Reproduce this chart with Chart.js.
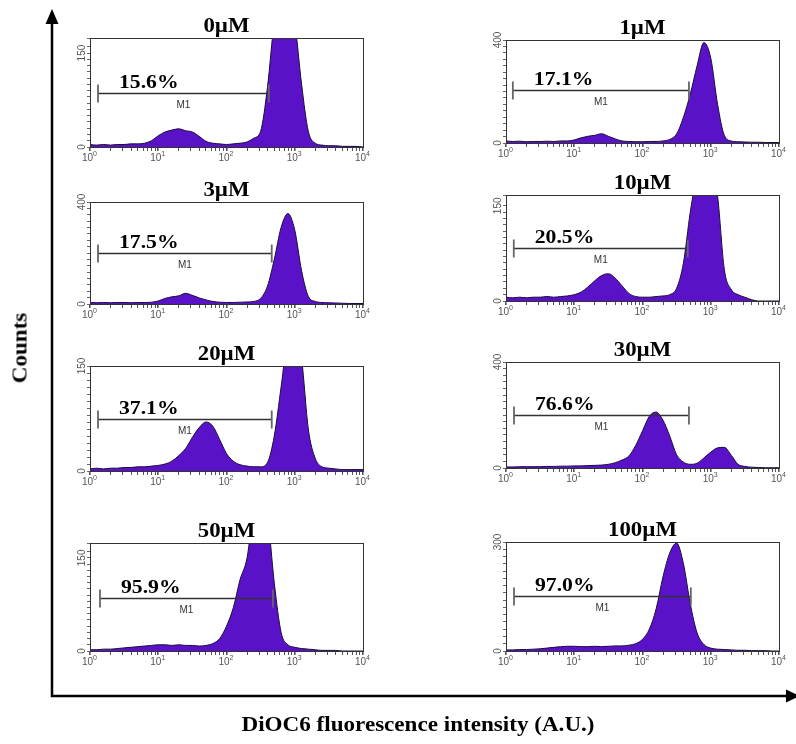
<!DOCTYPE html>
<html>
<head>
<meta charset="utf-8">
<title>DiOC6 histograms</title>
<script src="https://cdn.jsdelivr.net/npm/chart.js@4.4.1/dist/chart.umd.min.js"></script>
<style>
  html, body { margin: 0; padding: 0; background: #fff; }
  #page { position: relative; width: 796px; height: 744px; overflow: hidden; }
  #page canvas { position: absolute; }
  .axis-title {
    position: absolute;
    font-family: "Liberation Serif", "Times New Roman", serif;
    font-weight: bold;
    font-size: 21px;
    white-space: nowrap;
    color: #000;
  }
  #ylab { left: 20px; top: 348px; transform: translate(-50%, -50%) rotate(-90deg) scaleX(1.1); }
  #xlab { left: 418px; top: 724px; transform: translate(-50%, -50%) scaleX(1.1); }
</style>
</head>
<body>
<div id="page">
  <canvas id="frame" width="796" height="744" style="left:0;top:0"></canvas>
  <div class="axis-title" id="ylab">Counts</div>
  <div class="axis-title" id="xlab">DiOC6 fluorescence intensity (A.U.)</div>
</div>
<script>
// fluorescence channels (log scale, 10 per decade)
const channels = [1, 1.26, 1.58, 2, 2.51, 3.16, 3.98, 5.01, 6.31, 7.94,
  10, 12.6, 15.8, 20, 25.1, 31.6, 39.8, 50.1, 63.1, 79.4,
  100, 126, 158, 200, 251, 316, 398, 501, 631, 794,
  1000, 1260, 1580, 2000, 2510, 3160, 3980, 5010, 6310, 7940, 10000];

const doses = ['0µM', '1µM', '3µM', '10µM', '20µM', '30µM', '50µM', '100µM'];
const percents = ['15.6%', '17.1%', '17.5%', '20.5%', '37.1%', '76.6%', '95.9%', '97.0%'];

// counts
const counts0 = [4,3,4,3,4,4,5,5,6,10, 18,24,27,29,26,24,17,9,6,5, 4,5,6,8,14,25,95,200,250,260, 200,100,25,6,3,2,2,1,1,1, 0];
const counts1 = [8,6,7,5,6,6,7,6,8,8, 12,20,26,30,36,26,16,8,6,5, 5,6,6,8,14,35,100,190,300,390, 330,150,30,8,5,4,3,3,2,2, 2];
const counts3 = [6,5,6,5,6,6,5,6,6,7, 12,22,28,32,42,34,24,16,10,7, 6,6,7,8,10,22,70,175,300,355, 290,130,30,10,6,5,4,3,2,2, 2];
const counts10 = [6,5,6,5,6,6,7,6,7,8, 10,14,22,32,40,43,36,24,12,7, 6,6,7,8,10,20,60,140,200,230, 220,165,50,18,10,6,2,0,0,0, 0];
const counts20 = [3,4,3,4,4,5,5,6,6,7, 8,10,14,22,32,48,62,70,64,45, 25,14,9,7,6,6,12,50,120,190, 200,160,60,18,6,4,3,2,2,2, 2];
const counts30 = [4,4,5,5,5,5,6,6,7,7, 8,8,9,10,11,14,20,30,45,85, 140,195,211,180,120,50,22,14,18,38, 60,76,78,48,14,6,3,2,1,1, 1];
const counts50 = [2,2,3,3,4,5,6,7,8,9, 10,10,9,10,9,9,8,9,12,20, 40,70,115,150,230,260,220,110,30,10, 6,4,3,2,1,1,1,0,0,0, 0];
const counts100 = [3,3,4,4,5,6,8,10,12,13, 13,12,12,13,12,13,14,14,16,20, 32,60,115,205,270,297,240,130,50,18, 8,5,4,3,2,2,1,1,1,0, 0];
const histograms = [counts0, counts1, counts3, counts10, counts20, counts30, counts50, counts100];

// y axis range and labelled value
const yMax = [174, 400, 400, 167, 150, 400, 174, 300];
const yLabel = [150, 400, 400, 150, 150, 400, 150, 300];
const yStep = [10, 25, 25, 10, 10, 25, 10, 20];

// M1 marker: start, end (channel) and height (counts)
const gateStart = [1.31, 1.26, 1.31, 1.3, 1.31, 1.31, 1.4, 1.31];
const gateEnd = [417, 479, 460, 460, 460, 479, 479, 511];
const gateLevel = [86, 206, 200, 84, 74, 200, 85, 152];

const xTickValues = [1, 10, 100, 1000, 10000];
const xTickExp = ['0', '1', '2', '3', '4'];

// layout of the panels on the page
const colLeft = [90, 506];
const plotW = 273;
const panelTop = [38, 40, 202, 195, 366, 362, 543, 542];
const panelBottom = [147, 143, 304, 301, 471, 468, 651, 651];
const PAD = { left: 30, top: 32, right: 12, bottom: 18 };

const serif = '"Liberation Serif", "Times New Roman", serif';
const sans = '"Liberation Sans", Arial, sans-serif';

function stretchText(ctx, text, x, y, align) {
  ctx.save();
  ctx.translate(x, y);
  ctx.scale(1.14, 1);
  ctx.textAlign = align;
  ctx.fillText(text, 0, 0);
  ctx.restore();
}

const panelDecor = {
  id: 'panelDecor',
  afterDatasetsDraw(chart, args, opts) {
    const k = opts.index;
    const ctx = chart.ctx;
    const a = chart.chartArea;
    const x = chart.scales.x, y = chart.scales.y;
    ctx.save();

    // box
    ctx.strokeStyle = '#333';
    ctx.lineWidth = 1;
    ctx.strokeRect(Math.round(a.left) + 0.5, Math.round(a.top) + 0.5, Math.round(a.width), Math.round(a.height));

    // M1 marker
    const gy = Math.round(y.getPixelForValue(gateLevel[k])) + 0.5;
    const gx1 = x.getPixelForValue(gateStart[k]);
    const gx2 = x.getPixelForValue(gateEnd[k]);
    ctx.strokeStyle = '#333';
    ctx.lineWidth = 1.3;
    ctx.beginPath();
    ctx.moveTo(gx1, gy); ctx.lineTo(gx2, gy);
    ctx.stroke();
    ctx.strokeStyle = '#666';
    ctx.lineWidth = 1.8;
    ctx.beginPath();
    ctx.moveTo(gx1, gy - 9); ctx.lineTo(gx1, gy + 9);
    ctx.moveTo(gx2, gy - 9); ctx.lineTo(gx2, gy + 9);
    ctx.stroke();
    ctx.fillStyle = '#333';
    ctx.font = '10px ' + sans;
    ctx.textAlign = 'center';
    ctx.textBaseline = 'alphabetic';
    ctx.fillText('M1', (gx1 + gx2) / 2, gy + 14);

    // percentage
    ctx.fillStyle = '#000';
    ctx.font = 'bold 19px ' + serif;
    stretchText(ctx, percents[k], gx1 + 21, gy - 6, 'left');

    // dose title
    ctx.font = 'bold 20px ' + serif;
    stretchText(ctx, doses[k], (a.left + a.right) / 2, a.top - 6, 'center');

    // x tick labels 10^n
    ctx.fillStyle = '#555';
    xTickValues.forEach((v, i) => {
      const px = x.getPixelForValue(v);
      ctx.font = '10px ' + sans;
      ctx.textAlign = 'right';
      ctx.fillText('10', px + 3, a.bottom + 14);
      ctx.font = '7px ' + sans;
      ctx.textAlign = 'left';
      ctx.fillText(xTickExp[i], px + 3, a.bottom + 9);
    });

    // y tick labels, rotated
    ctx.font = '10px ' + sans;
    ctx.textAlign = 'center';
    ctx.textBaseline = 'middle';
    [0, yLabel[k]].forEach(v => {
      ctx.save();
      ctx.translate(a.left - 8, y.getPixelForValue(v));
      ctx.rotate(-Math.PI / 2);
      ctx.fillText(String(v), 0, 0);
      ctx.restore();
    });
    ctx.restore();
  }
};

const page = document.getElementById('page');

histograms.forEach((counts, k) => {
  const left = colLeft[k % 2];
  const top = panelTop[k];
  const h = panelBottom[k] - panelTop[k];
  const canvas = document.createElement('canvas');
  canvas.width = plotW + PAD.left + PAD.right;
  canvas.height = h + PAD.top + PAD.bottom;
  canvas.style.left = (left - PAD.left) + 'px';
  canvas.style.top = (top - PAD.top) + 'px';
  page.appendChild(canvas);

  new Chart(canvas, {
    type: 'line',
    data: {
      datasets: [{
        data: channels.map((c, i) => ({ x: c, y: counts[i] })),
        fill: 'origin',
        backgroundColor: '#5a12c8',
        borderColor: '#1a0c3c',
        borderWidth: 1,
        pointRadius: 0,
        cubicInterpolationMode: 'monotone',
        clip: 0
      }]
    },
    options: {
      responsive: false,
      animation: false,
      events: [],
      layout: { padding: PAD },
      plugins: {
        legend: { display: false },
        tooltip: { enabled: false },
        panelDecor: { index: k }
      },
      scales: {
        x: {
          type: 'logarithmic',
          min: 1,
          max: 10000,
          afterBuildTicks: s => { s.ticks = s.ticks.filter(t => !/^15/.test(String(t.value))); },
          afterFit: s => { s.height = 0; },
          ticks: { display: false },
          border: { display: true, color: '#222', width: 1 },
          grid: {
            drawOnChartArea: false,
            tickLength: 4,
            color: '#555',
            lineWidth: c => (c.tick && Number.isInteger(Math.log10(c.tick.value)) ? 1.6 : 1)
          }
        },
        y: {
          min: 0,
          max: yMax[k],
          afterFit: s => { s.width = 0; },
          ticks: { display: false, stepSize: yStep[k], maxTicksLimit: 100 },
          border: { display: true, color: '#222', width: 1 },
          grid: { drawOnChartArea: false, tickLength: 3, color: '#666' }
        }
      }
    },
    plugins: [panelDecor]
  });
});

// outer axes with arrows
const fctx = document.getElementById('frame').getContext('2d');
fctx.strokeStyle = '#000';
fctx.fillStyle = '#000';
fctx.lineWidth = 2.5;
fctx.beginPath();
fctx.moveTo(52, 22);
fctx.lineTo(52, 696);
fctx.lineTo(788, 696);
fctx.stroke();
fctx.beginPath();
fctx.moveTo(52, 9); fctx.lineTo(45.5, 24); fctx.lineTo(58.5, 24);
fctx.closePath(); fctx.fill();
fctx.beginPath();
fctx.moveTo(800, 696); fctx.lineTo(786, 689.5); fctx.lineTo(786, 702.5);
fctx.closePath(); fctx.fill();
</script>
</body>
</html>
